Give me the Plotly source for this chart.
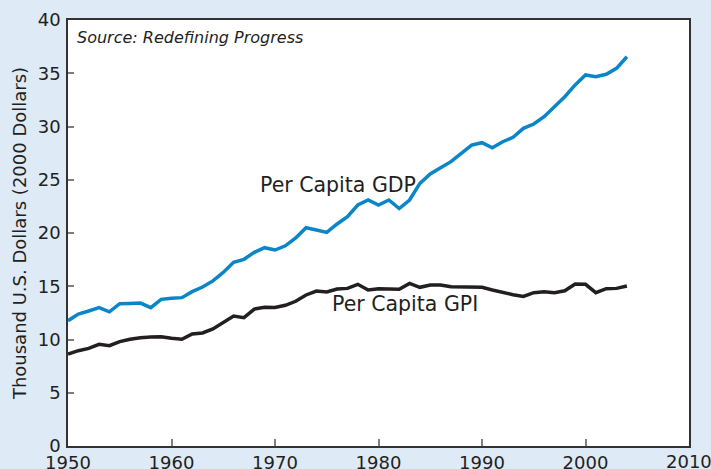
import plotly.graph_objects as go

years = list(range(1950, 2005))
gdp = [11.77, 12.39, 12.68, 12.99, 12.6, 13.36, 13.39, 13.42, 12.99, 13.77,
       13.87, 13.93, 14.49, 14.93, 15.5, 16.3, 17.25, 17.53, 18.19, 18.62,
       18.4, 18.8, 19.53, 20.5, 20.28, 20.06, 20.85, 21.53, 22.63, 23.1,
       22.63, 23.1, 22.3, 23.1, 24.66, 25.54, 26.13, 26.7, 27.48, 28.26,
       28.48, 28.0, 28.57, 28.98, 29.83, 30.23, 30.92, 31.86, 32.8, 33.9,
       34.84, 34.68, 34.9, 35.46, 36.55]
gpi = [8.64, 8.95, 9.17, 9.55, 9.42, 9.8, 10.02, 10.17, 10.23, 10.26,
       10.11, 10.02, 10.52, 10.61, 10.99, 11.55, 12.2, 12.05, 12.86, 13.02,
       13.0, 13.21, 13.59, 14.18, 14.55, 14.46, 14.74, 14.8, 15.18, 14.65,
       14.77, 14.74, 14.71, 15.27, 14.9, 15.12, 15.12, 14.96, 14.93, 14.96,
       14.9, 14.65, 14.4, 14.21, 14.05, 14.4, 14.49, 14.4, 14.58, 15.21,
       15.18, 14.4, 14.77, 14.8, 15.02]
x_ticks = [1950, 1960, 1970, 1980, 1990, 2000, 2010]
y_ticks = [0, 5, 10, 15, 20, 25, 30, 35, 40]

font_family = "DejaVu Sans, sans-serif"
text_color = "#231f20"
bg = "#deeaf6"

fig = go.Figure()
fig.add_trace(go.Scatter(x=years, y=gdp, mode="lines", name="Per Capita GDP",
                         line=dict(color="#0a86c8", width=3.5)))
fig.add_trace(go.Scatter(x=years, y=gpi, mode="lines", name="Per Capita GPI",
                         line=dict(color="#231f20", width=3.5)))

fig.add_annotation(x=1976.1, y=24.5, text="Per Capita GDP", showarrow=False,
                   font=dict(size=20.5, color=text_color, family=font_family))
fig.add_annotation(x=1982.6, y=13.3, text="Per Capita GPI", showarrow=False,
                   font=dict(size=20.5, color=text_color, family=font_family))
fig.add_annotation(xref="paper", yref="paper", x=0.011, y=0.985, xanchor="left",
                   yanchor="top",
                   text="<i>Source: Redefining Progress</i>", showarrow=False,
                   font=dict(size=16, color=text_color, family=font_family))
# last x tick label sits at the plot edge; drawn as an annotation so it is not dropped
fig.add_annotation(x=x_ticks[-1], y=0, yref="y", text=str(x_ticks[-1]),
                   showarrow=False, yanchor="top", yshift=-3,
                   font=dict(size=18, color=text_color, family=font_family))

fig.update_layout(
    width=711, height=469,
    margin=dict(l=68, r=22, t=20, b=23),
    paper_bgcolor=bg,
    plot_bgcolor="white",
    showlegend=False,
    font=dict(family=font_family, color=text_color, size=18),
)
fig.update_xaxes(range=[1950, 2010], tickvals=x_ticks,
                 ticktext=[str(v) for v in x_ticks[:-1]] + [""],
                 ticks="inside", ticklen=7, automargin=False,
                 tickcolor="#808080", tickwidth=1.5, showgrid=False, zeroline=False,
                 showline=True, linecolor="#333333", linewidth=1.5, mirror=True,
                 tickfont=dict(size=18), ticklabelstandoff=0)
fig.update_yaxes(range=[0, 40], tickvals=y_ticks, ticks="inside", ticklen=6,
                 tickcolor="#808080", tickwidth=1.5, showgrid=False, automargin=False,
                 zeroline=False, showline=True, linecolor="#333333", linewidth=1.5,
                 mirror=True, tickfont=dict(size=18), ticklabelstandoff=2,
                 title=dict(text="Thousand U.S. Dollars (2000 Dollars)", standoff=6,
                            font=dict(size=18)))

fig.write_html("out.html", config={"displayModeBar": False},
               post_script="document.body.style.margin='0';"
                           "document.body.style.background='%s';" % bg)
